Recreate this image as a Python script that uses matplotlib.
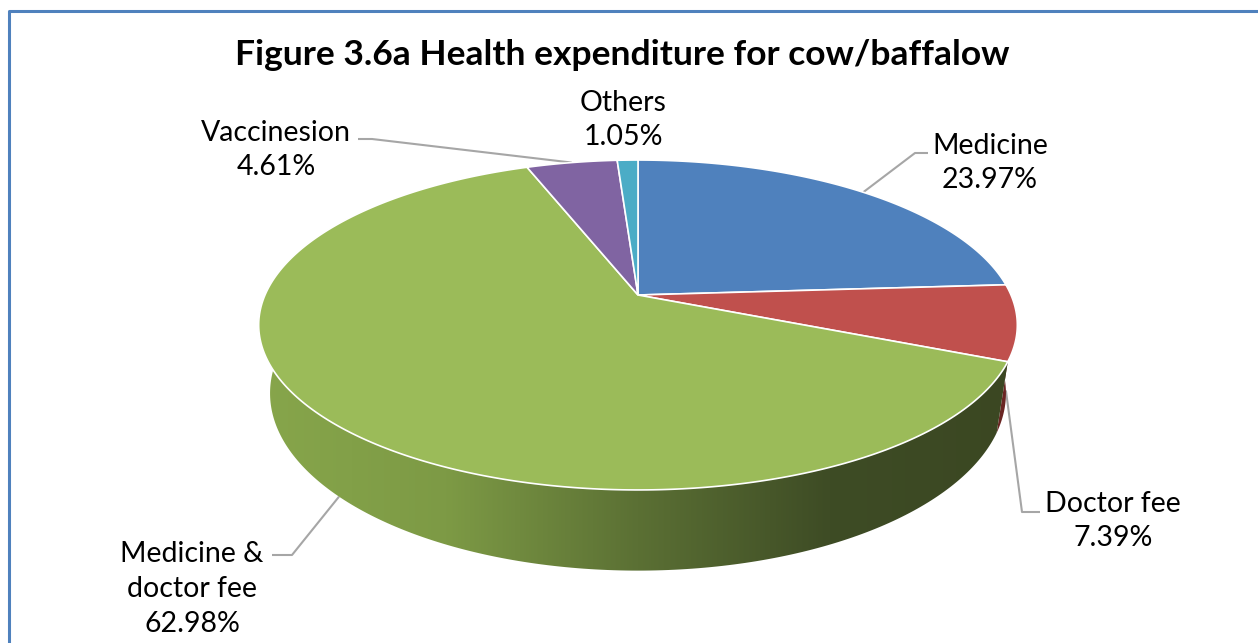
import numpy as np
import matplotlib.pyplot as plt
from matplotlib.colors import LinearSegmentedColormap
from matplotlib.patches import Polygon

TITLE = "Figure 3.6a Health expenditure for cow/baffalow"
CATEGORIES = ["Medicine", "Doctor fee", "Medicine &\ndoctor fee", "Vaccinesion", "Others"]
SHARES = [23.97, 7.39, 62.98, 4.61, 1.05]
TOP_COLORS = ["#4f81bd", "#c0504d", "#9bbb59", "#8064a2", "#4bacc6"]
WALL_COLORS = [
    ["#3d6494", "#2c4a70"],
    ["#8a3432", "#6a2523"],
    ["#87a64b", "#7d9a45", "#5b7034", "#3e4c25", "#3b4722"],
    ["#5f4a7a", "#4a395f"],
    ["#3a8699", "#2d6878"],
]

# label block centre and leader elbow (pixel layout)
LABEL_POS = [(990, 163), (1113, 521), (192, 589), (276, 150), (623, 120)]
ELBOWS = [((915, 153), (928, 153)), ((1022, 512), (1040, 512)),
          ((292, 555), (272, 555)), ((372, 139), (358, 139)), None]

W, H = 1258, 643
CX, CY = 638, 295
RX, RY = 373, 159.5
PERSP = 0.1818
DEPTH = 66
SHRINK = 0.03


def project(theta, depth=0.0):
    u, v = np.cos(theta), np.sin(theta)
    k = 1.0 / (1.0 + PERSP * v)
    rx = RX * (1 - SHRINK * depth)
    return CX + rx * u * k, CY - RY * v * k + DEPTH * depth * k


def main():
    fig = plt.figure(figsize=(W / 100, H / 100), dpi=100)
    ax = fig.add_axes([0, 0, 1, 1])
    ax.set_xlim(0, W)
    ax.set_ylim(H, 0)
    ax.axis("off")

    cum = np.concatenate([[0], np.cumsum(SHARES)])
    starts = np.radians(90 - 360 * cum[:-1] / 100)
    ends = np.radians(90 - 360 * cum[1:] / 100)

    # side walls (front half only)
    for i in range(len(SHARES)):
        a0, a1 = ends[i], starts[i]
        segs = []
        lo, hi = max(a0, -np.pi), min(a1, 0.0)
        if hi > lo:
            segs.append((lo, hi))
        if a0 < -np.pi:
            lo2, hi2 = max(a0 + 2 * np.pi, -np.pi), min(a1 + 2 * np.pi, 0.0)
            if hi2 > lo2:
                segs.append((lo2, hi2))
        for lo, hi in segs:
            t = np.linspace(lo, hi, 200)
            xt, yt = project(t)
            xb, yb = project(t[::-1], 1.0)
            pts = np.column_stack([np.concatenate([xt, xb]), np.concatenate([yt, yb])])
            poly = Polygon(pts, closed=True, facecolor="none", edgecolor="none")
            ax.add_patch(poly)
            cmap = LinearSegmentedColormap.from_list("w%d" % i, WALL_COLORS[i])
            grad = np.linspace(0, 1, 256)[None, :]
            im = ax.imshow(grad, cmap=cmap, aspect="auto",
                           extent=(CX - RX - 10, CX + RX + 10, CY + 300, CY - 100),
                           zorder=2, interpolation="bilinear")
            im.set_clip_path(poly)

    # top faces
    for i in range(len(SHARES)):
        t = np.linspace(starts[i], ends[i], 300)
        x, y = project(t)
        pts = np.column_stack([np.concatenate([[CX], x]), np.concatenate([[CY], y])])
        ax.add_patch(Polygon(pts, closed=True, facecolor=TOP_COLORS[i],
                             edgecolor="white", linewidth=1.2, zorder=3))

    # labels and leader lines
    for i, name in enumerate(CATEGORIES):
        lx, ly = LABEL_POS[i]
        ax.text(lx, ly, f"{name}\n{SHARES[i]:.2f}%", ha="center", va="center",
                fontsize=20.5, family="Lato", linespacing=1.42, color="black", zorder=5)
        if ELBOWS[i] is None:
            continue
        mid = (starts[i] + ends[i]) / 2
        if np.sin(mid) < 0:
            ax_, ay_ = project(mid, 1.0)
        else:
            ax_, ay_ = project(mid)
        (ex, ey), (hx, hy) = ELBOWS[i]
        ax.plot([ax_, ex, hx], [ay_, ey, hy], color="#a6a6a6", lw=1.5, zorder=1,
                solid_capstyle="butt")

    ax.text(622, 55, TITLE, ha="center", va="center", fontsize=25.5,
            fontweight="bold", family="Lato", color="black")

    # chart frame
    ax.plot([9, 9, W + 5], [H + 5, 11, 11], color="#4f81bd", lw=2.2,
            solid_joinstyle="round", zorder=6)

    fig.savefig("out.png", dpi=100)
    plt.close(fig)


if __name__ == "__main__":
    main()
